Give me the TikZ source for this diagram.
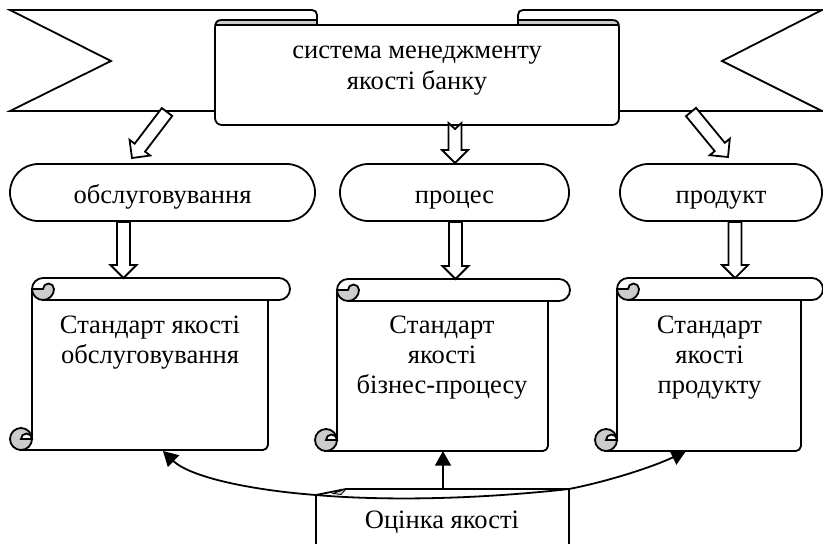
\documentclass[tikz,border=0pt]{standalone}
\usepackage{fontspec}
\setmainfont{Liberation Serif}
\usetikzlibrary{calc,arrows.meta}
\definecolor{curlgray}{RGB}{204,204,204}
% hollow block arrow from #1 (tail) to #2 (tip), tail notch depth #3
\newcommand\blockarr[3]{%
  \coordinate (bah) at ($(#2)!9.75pt!(#1)$);
  \coordinate (ban) at ($(#1)!#3!(#2)$);
  \draw[blk] ($(#1)!4.9pt!90:(#2)$) -- ($(bah)!4.9pt!90:(#2)$) -- ($(bah)!9.75pt!90:(#2)$) -- (#2)
    -- ($(bah)!9.75pt!-90:(#2)$) -- ($(bah)!4.9pt!-90:(#2)$) -- ($(#1)!4.9pt!-90:(#2)$) -- (ban) -- cycle;}
% horizontal scroll: left, top, right, bottom (px, y down)
\newcommand\scrollshape[4]{%
  \draw[fill=white] ({#1+22},{#4-11}) -- ({#1+22},{#2+11})
    .. controls ({#1+22},{#2+4.925}) and ({#1+26.925},{#2}) .. ({#1+33},{#2})
    -- ({#3-11},{#2})
    .. controls ({#3-4.925},{#2}) and ({#3},{#2+4.925}) .. ({#3},{#2+11})
    .. controls ({#3},{#2+17.075}) and ({#3-4.925},{#2+22}) .. ({#3-11},{#2+22})
    -- ({#3-22},{#2+22})
    -- ({#3-22},{#4-5}) .. controls ({#3-22},{#4-2.24}) and ({#3-24.76},{#4}) .. ({#3-27},{#4})
    -- ({#1+11},{#4}) -- cycle;
  \draw ({#3-22},{#2+22}) -- ({#1+33},{#2+22});
  \draw[fill=curlgray] ({#1+22},{#2+11})
    .. controls ({#1+22},{#2+17.075}) and ({#1+26.925},{#2+22}) .. ({#1+33},{#2+22})
    .. controls ({#1+39.075},{#2+22}) and ({#1+44},{#2+17.075}) .. ({#1+44},{#2+11})
    .. controls ({#1+44},{#2+7.96}) and ({#1+41.54},{#2+5.5}) .. ({#1+38.5},{#2+5.5})
    .. controls ({#1+35.46},{#2+5.5}) and ({#1+33},{#2+7.96}) .. ({#1+33},{#2+11}) -- cycle;
  \draw[fill=curlgray] ({#1+11},{#4-11}) circle[radius=8.25pt];
  \draw[fill=white] ({#1+11},{#4-11})
    .. controls ({#1+11},{#4-14.04}) and ({#1+13.46},{#4-16.5}) .. ({#1+16.5},{#4-16.5})
    .. controls ({#1+19.54},{#4-16.5}) and ({#1+22},{#4-14.04}) .. ({#1+22},{#4-11}) -- cycle;}
\begin{document}
\begin{tikzpicture}[x=0.75pt,y=-0.75pt,line width=1.35pt,
  blk/.style={draw,fill=white},
  ovl/.style={draw,rounded corners=21.3pt,minimum height=42.75pt,inner sep=0pt,
    text height=18pt,text depth=2.25pt,font=\fontsize{19.9}{23}\selectfont},
  ttxt/.style={align=center,inner sep=0pt,font=\fontsize{19.9}{22.2}\selectfont},
  conn/.style={-{Triangle[length=11pt,width=12pt]},line width=1.35pt}]
\useasboundingbox (0,0) rectangle (823,544);

% ---- top ribbon: back tails
\draw[fill=white] (10,10) -- (312,10) .. controls (315,10) and (317,12) .. (317,15)
  -- (317,111) -- (10,111) -- (111,61) -- cycle;
\draw[fill=white] (822,10) -- (523,10) .. controls (520,10) and (518,12) .. (518,15)
  -- (518,111) -- (822,111) -- (722,61) -- cycle;
% front banner
\fill[white] (215,28) .. controls (215,22) and (217,20) .. (222,20) -- (317,20) -- (317,25)
  -- (518,25) -- (518,20) -- (612,20) .. controls (617,20) and (619,22) .. (619,28)
  -- (619,118) .. controls (619,122) and (616,125) .. (612,125) -- (222,125)
  .. controls (218,125) and (215,122) .. (215,118) -- cycle;
\fill[curlgray] (216,25) .. controls (216.5,21.5) and (218.5,20) .. (222,20) -- (317,20) -- (317,25) -- cycle;
\fill[curlgray] (518,20) -- (612,20) .. controls (615.5,20) and (617.5,21.5) .. (618,25) -- (518,25) -- cycle;
\draw (215,28) .. controls (215,22) and (217,20) .. (222,20) -- (317,20) -- (317,25)
  -- (518,25) -- (518,20) -- (612,20) .. controls (617,20) and (619,22) .. (619,28)
  -- (619,118) .. controls (619,122) and (616,125) .. (612,125) -- (222,125)
  .. controls (218,125) and (215,122) .. (215,118) -- cycle;
\draw (216,25) -- (317,25);
\draw (518,25) -- (618,25);
\node[ttxt,font=\fontsize{19.9}{23.3}\selectfont,anchor=north] (banner) at (417,38)
  {\rule{0pt}{15pt}система менеджменту\\якості банку};

% ---- ovals
\node[ovl,minimum width=228.75pt] (o1) at (162.5,192.5) {обслуговування};
\node[ovl,minimum width=171.75pt] (o2) at (454.5,192.5) {процес};
\node[ovl,minimum width=151.5pt] (o3) at (721,192.5) {продукт};

% ---- scrolls
\scrollshape{10}{278}{290}{450}
\scrollshape{315}{279}{570}{451}
\scrollshape{595}{278}{823}{451}
\node[ttxt,anchor=north] (s1) at (150,313) {\rule{0pt}{15pt}Стандарт якості\\обслуговування};
\node[ttxt,anchor=north] (s2) at (442,313) {\rule{0pt}{15pt}Стандарт\\якості\\бізнес-процесу};
\node[ttxt,anchor=north] (s3) at (709.5,313) {\rule{0pt}{15pt}Стандарт\\якості\\продукту};

% ---- block arrows
\coordinate (bL1) at (167,112); \coordinate (bL2) at (132,158);
\coordinate (bM1) at (455,123); \coordinate (bM2) at (455,163);
\coordinate (bR1) at (691,112); \coordinate (bR2) at (728,157);
\blockarr{bL1}{bL2}{0pt}
\blockarr{bM1}{bM2}{4.5pt}
\blockarr{bR1}{bR2}{0pt}
\coordinate (a1) at (o1.south -| 123.5,0); \coordinate (a1e) at (123.5,278);
\coordinate (a2) at (o2.south -| 455.5,0); \coordinate (a2e) at (455.5,279);
\coordinate (a3) at (o3.south -| 735,0);   \coordinate (a3e) at (735,278);
\blockarr{a1}{a1e}{0pt}
\blockarr{a2}{a2e}{0pt}
\blockarr{a3}{a3e}{0pt}

% ---- bottom box "Оцінка якості"
\coordinate (eL) at (316,495); \coordinate (eM) at (443,489); \coordinate (eR) at (569,489);
\draw (eL) -- (316,544);
\draw (eR) -- (569,544);
\draw (eL) .. controls (380,500.5) and (470,500) .. (eR);
\draw (eL) -- (346,489) -- (eR);
\filldraw[fill=curlgray,line width=0.6pt] (333,493.5) -- (346,489) -- (341,494.5) -- cycle;
\node[ttxt,anchor=base] (ocn) at (442,528) {Оцінка якості};

% ---- connectors
\coordinate (s1b) at (163,451); \coordinate (s2b) at (443,451); \coordinate (s3b) at (686,451);
\draw[conn] (eL) .. controls (250,490) and (190,477) .. (s1b);
\draw[conn] (eM) -- (s2b);
\draw[conn] (eR) .. controls (610,481) and (655,466) .. (s3b);
\end{tikzpicture}
\end{document}
